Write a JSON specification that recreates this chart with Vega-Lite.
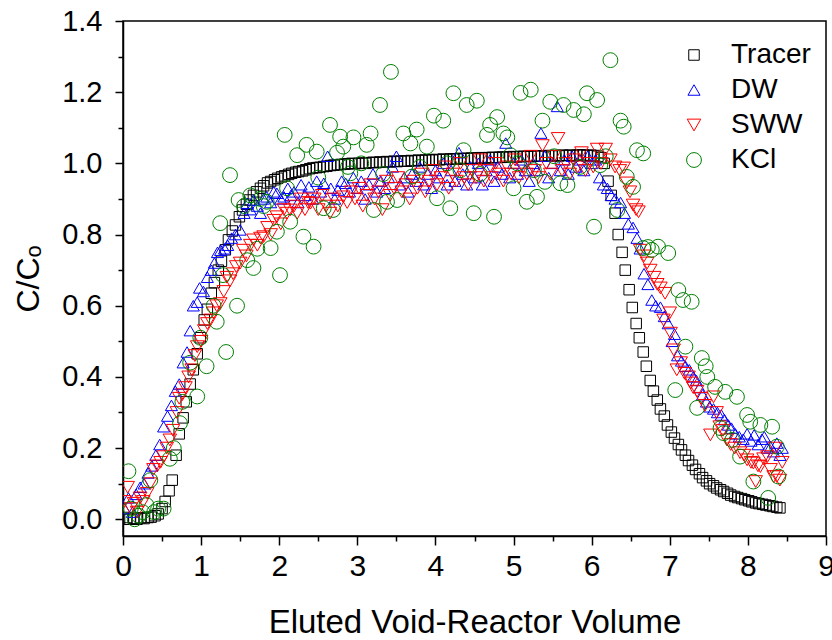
{
  "$schema": "https://vega.github.io/schema/vega-lite/v6.json",
  "width": 703,
  "height": 515,
  "autosize": "none",
  "padding": {"left": 123, "top": 21, "right": 6, "bottom": 104},
  "background": "white",
  "config": {
    "view": {"stroke": "black", "strokeWidth": 1.5},
    "axis": {
      "grid": false,
      "domainColor": "black",
      "domainWidth": 1.5,
      "tickColor": "black",
      "tickWidth": 1.5,
      "labelColor": "black",
      "titleColor": "black",
      "labelFont": "Liberation Sans",
      "titleFont": "Liberation Sans",
      "labelFontSize": 29,
      "titleFontSize": 33,
      "titleFontWeight": "normal"
    },
    "legend": {
      "labelFont": "Liberation Sans",
      "labelFontSize": 28,
      "labelColor": "black"
    }
  },
  "data": {
    "values": [
      {"s": "Tracer", "x": 0.0, "y": 0.0}, {"s": "Tracer", "x": 0.05, "y": 0.005}, {"s": "Tracer", "x": 0.09, "y": 0.0},
      {"s": "Tracer", "x": 0.14, "y": 0.003}, {"s": "Tracer", "x": 0.18, "y": 0.0}, {"s": "Tracer", "x": 0.23, "y": 0.004},
      {"s": "Tracer", "x": 0.27, "y": 0.002}, {"s": "Tracer", "x": 0.32, "y": 0.005}, {"s": "Tracer", "x": 0.36, "y": 0.006},
      {"s": "Tracer", "x": 0.41, "y": 0.01}, {"s": "Tracer", "x": 0.45, "y": 0.015}, {"s": "Tracer", "x": 0.5, "y": 0.03},
      {"s": "Tracer", "x": 0.54, "y": 0.05}, {"s": "Tracer", "x": 0.59, "y": 0.08}, {"s": "Tracer", "x": 0.63, "y": 0.11},
      {"s": "Tracer", "x": 0.68, "y": 0.18}, {"s": "Tracer", "x": 0.72, "y": 0.24}, {"s": "Tracer", "x": 0.77, "y": 0.285},
      {"s": "Tracer", "x": 0.81, "y": 0.33}, {"s": "Tracer", "x": 0.86, "y": 0.38}, {"s": "Tracer", "x": 0.9, "y": 0.42},
      {"s": "Tracer", "x": 0.95, "y": 0.465}, {"s": "Tracer", "x": 0.99, "y": 0.51}, {"s": "Tracer", "x": 1.04, "y": 0.56},
      {"s": "Tracer", "x": 1.08, "y": 0.59}, {"s": "Tracer", "x": 1.13, "y": 0.635}, {"s": "Tracer", "x": 1.17, "y": 0.665},
      {"s": "Tracer", "x": 1.22, "y": 0.7}, {"s": "Tracer", "x": 1.26, "y": 0.725}, {"s": "Tracer", "x": 1.31, "y": 0.757},
      {"s": "Tracer", "x": 1.35, "y": 0.785}, {"s": "Tracer", "x": 1.4, "y": 0.81}, {"s": "Tracer", "x": 1.44, "y": 0.827},
      {"s": "Tracer", "x": 1.49, "y": 0.85}, {"s": "Tracer", "x": 1.53, "y": 0.869}, {"s": "Tracer", "x": 1.58, "y": 0.885},
      {"s": "Tracer", "x": 1.62, "y": 0.897}, {"s": "Tracer", "x": 1.67, "y": 0.91}, {"s": "Tracer", "x": 1.71, "y": 0.92},
      {"s": "Tracer", "x": 1.76, "y": 0.93}, {"s": "Tracer", "x": 1.8, "y": 0.937}, {"s": "Tracer", "x": 1.85, "y": 0.945},
      {"s": "Tracer", "x": 1.89, "y": 0.949}, {"s": "Tracer", "x": 1.94, "y": 0.954}, {"s": "Tracer", "x": 1.98, "y": 0.958},
      {"s": "Tracer", "x": 2.03, "y": 0.962}, {"s": "Tracer", "x": 2.07, "y": 0.965}, {"s": "Tracer", "x": 2.12, "y": 0.969},
      {"s": "Tracer", "x": 2.16, "y": 0.972}, {"s": "Tracer", "x": 2.21, "y": 0.975}, {"s": "Tracer", "x": 2.25, "y": 0.977},
      {"s": "Tracer", "x": 2.3, "y": 0.979}, {"s": "Tracer", "x": 2.34, "y": 0.982}, {"s": "Tracer", "x": 2.39, "y": 0.985},
      {"s": "Tracer", "x": 2.43, "y": 0.987}, {"s": "Tracer", "x": 2.48, "y": 0.988}, {"s": "Tracer", "x": 2.52, "y": 0.989},
      {"s": "Tracer", "x": 2.57, "y": 0.991}, {"s": "Tracer", "x": 2.61, "y": 0.992}, {"s": "Tracer", "x": 2.66, "y": 0.994},
      {"s": "Tracer", "x": 2.7, "y": 0.995}, {"s": "Tracer", "x": 2.75, "y": 0.996}, {"s": "Tracer", "x": 2.79, "y": 0.997},
      {"s": "Tracer", "x": 2.84, "y": 0.998}, {"s": "Tracer", "x": 2.88, "y": 0.999}, {"s": "Tracer", "x": 2.93, "y": 1.0},
      {"s": "Tracer", "x": 2.97, "y": 0.999}, {"s": "Tracer", "x": 3.02, "y": 1.0}, {"s": "Tracer", "x": 3.06, "y": 1.001},
      {"s": "Tracer", "x": 3.11, "y": 1.0}, {"s": "Tracer", "x": 3.15, "y": 1.002}, {"s": "Tracer", "x": 3.2, "y": 1.003},
      {"s": "Tracer", "x": 3.24, "y": 1.002}, {"s": "Tracer", "x": 3.29, "y": 1.004}, {"s": "Tracer", "x": 3.33, "y": 1.003},
      {"s": "Tracer", "x": 3.38, "y": 1.005}, {"s": "Tracer", "x": 3.42, "y": 1.004}, {"s": "Tracer", "x": 3.47, "y": 1.006},
      {"s": "Tracer", "x": 3.51, "y": 1.005}, {"s": "Tracer", "x": 3.56, "y": 1.006}, {"s": "Tracer", "x": 3.6, "y": 1.007},
      {"s": "Tracer", "x": 3.65, "y": 1.006}, {"s": "Tracer", "x": 3.69, "y": 1.008}, {"s": "Tracer", "x": 3.74, "y": 1.007},
      {"s": "Tracer", "x": 3.78, "y": 1.009}, {"s": "Tracer", "x": 3.83, "y": 1.008}, {"s": "Tracer", "x": 3.87, "y": 1.009},
      {"s": "Tracer", "x": 3.92, "y": 1.01}, {"s": "Tracer", "x": 3.96, "y": 1.009}, {"s": "Tracer", "x": 4.01, "y": 1.011},
      {"s": "Tracer", "x": 4.05, "y": 1.01}, {"s": "Tracer", "x": 4.1, "y": 1.012}, {"s": "Tracer", "x": 4.14, "y": 1.011},
      {"s": "Tracer", "x": 4.19, "y": 1.012}, {"s": "Tracer", "x": 4.23, "y": 1.013}, {"s": "Tracer", "x": 4.28, "y": 1.012},
      {"s": "Tracer", "x": 4.32, "y": 1.014}, {"s": "Tracer", "x": 4.37, "y": 1.013}, {"s": "Tracer", "x": 4.41, "y": 1.014},
      {"s": "Tracer", "x": 4.46, "y": 1.015}, {"s": "Tracer", "x": 4.5, "y": 1.014}, {"s": "Tracer", "x": 4.55, "y": 1.015},
      {"s": "Tracer", "x": 4.59, "y": 1.016}, {"s": "Tracer", "x": 4.64, "y": 1.015}, {"s": "Tracer", "x": 4.68, "y": 1.016},
      {"s": "Tracer", "x": 4.73, "y": 1.017}, {"s": "Tracer", "x": 4.77, "y": 1.016}, {"s": "Tracer", "x": 4.82, "y": 1.017},
      {"s": "Tracer", "x": 4.86, "y": 1.018}, {"s": "Tracer", "x": 4.91, "y": 1.017}, {"s": "Tracer", "x": 4.95, "y": 1.018},
      {"s": "Tracer", "x": 5.0, "y": 1.019}, {"s": "Tracer", "x": 5.04, "y": 1.018}, {"s": "Tracer", "x": 5.09, "y": 1.019},
      {"s": "Tracer", "x": 5.13, "y": 1.02}, {"s": "Tracer", "x": 5.18, "y": 1.019}, {"s": "Tracer", "x": 5.22, "y": 1.02},
      {"s": "Tracer", "x": 5.27, "y": 1.021}, {"s": "Tracer", "x": 5.31, "y": 1.02}, {"s": "Tracer", "x": 5.36, "y": 1.021},
      {"s": "Tracer", "x": 5.4, "y": 1.02}, {"s": "Tracer", "x": 5.45, "y": 1.022}, {"s": "Tracer", "x": 5.49, "y": 1.021},
      {"s": "Tracer", "x": 5.54, "y": 1.022}, {"s": "Tracer", "x": 5.58, "y": 1.021}, {"s": "Tracer", "x": 5.63, "y": 1.023},
      {"s": "Tracer", "x": 5.67, "y": 1.022}, {"s": "Tracer", "x": 5.72, "y": 1.023}, {"s": "Tracer", "x": 5.76, "y": 1.022},
      {"s": "Tracer", "x": 5.81, "y": 1.023}, {"s": "Tracer", "x": 5.85, "y": 1.024}, {"s": "Tracer", "x": 5.9, "y": 1.023},
      {"s": "Tracer", "x": 5.94, "y": 1.022}, {"s": "Tracer", "x": 5.99, "y": 1.023}, {"s": "Tracer", "x": 6.03, "y": 1.022},
      {"s": "Tracer", "x": 6.08, "y": 1.02}, {"s": "Tracer", "x": 6.12, "y": 1.016}, {"s": "Tracer", "x": 6.16, "y": 1.0},
      {"s": "Tracer", "x": 6.21, "y": 0.95}, {"s": "Tracer", "x": 6.25, "y": 0.91}, {"s": "Tracer", "x": 6.3, "y": 0.86},
      {"s": "Tracer", "x": 6.34, "y": 0.8}, {"s": "Tracer", "x": 6.39, "y": 0.75}, {"s": "Tracer", "x": 6.43, "y": 0.7},
      {"s": "Tracer", "x": 6.48, "y": 0.645}, {"s": "Tracer", "x": 6.52, "y": 0.595}, {"s": "Tracer", "x": 6.57, "y": 0.55},
      {"s": "Tracer", "x": 6.61, "y": 0.51}, {"s": "Tracer", "x": 6.66, "y": 0.47}, {"s": "Tracer", "x": 6.7, "y": 0.43},
      {"s": "Tracer", "x": 6.75, "y": 0.39}, {"s": "Tracer", "x": 6.79, "y": 0.36}, {"s": "Tracer", "x": 6.84, "y": 0.335},
      {"s": "Tracer", "x": 6.88, "y": 0.31}, {"s": "Tracer", "x": 6.93, "y": 0.29}, {"s": "Tracer", "x": 6.97, "y": 0.265},
      {"s": "Tracer", "x": 7.02, "y": 0.245}, {"s": "Tracer", "x": 7.06, "y": 0.228}, {"s": "Tracer", "x": 7.11, "y": 0.21},
      {"s": "Tracer", "x": 7.15, "y": 0.195}, {"s": "Tracer", "x": 7.2, "y": 0.18}, {"s": "Tracer", "x": 7.24, "y": 0.165},
      {"s": "Tracer", "x": 7.29, "y": 0.152}, {"s": "Tracer", "x": 7.33, "y": 0.14}, {"s": "Tracer", "x": 7.38, "y": 0.128},
      {"s": "Tracer", "x": 7.42, "y": 0.117}, {"s": "Tracer", "x": 7.47, "y": 0.108}, {"s": "Tracer", "x": 7.51, "y": 0.1},
      {"s": "Tracer", "x": 7.56, "y": 0.094}, {"s": "Tracer", "x": 7.6, "y": 0.088}, {"s": "Tracer", "x": 7.65, "y": 0.083},
      {"s": "Tracer", "x": 7.69, "y": 0.078}, {"s": "Tracer", "x": 7.74, "y": 0.073}, {"s": "Tracer", "x": 7.78, "y": 0.068},
      {"s": "Tracer", "x": 7.83, "y": 0.064}, {"s": "Tracer", "x": 7.87, "y": 0.061}, {"s": "Tracer", "x": 7.92, "y": 0.058},
      {"s": "Tracer", "x": 7.96, "y": 0.055}, {"s": "Tracer", "x": 8.01, "y": 0.052}, {"s": "Tracer", "x": 8.05, "y": 0.049},
      {"s": "Tracer", "x": 8.1, "y": 0.046}, {"s": "Tracer", "x": 8.14, "y": 0.044}, {"s": "Tracer", "x": 8.19, "y": 0.042},
      {"s": "Tracer", "x": 8.23, "y": 0.04}, {"s": "Tracer", "x": 8.28, "y": 0.038}, {"s": "Tracer", "x": 8.32, "y": 0.036},
      {"s": "Tracer", "x": 8.37, "y": 0.034}, {"s": "Tracer", "x": 8.41, "y": 0.032},

      {"s": "DW", "x": 0.02, "y": 0.03}, {"s": "DW", "x": 0.07, "y": 0.06}, {"s": "DW", "x": 0.12, "y": 0.02},
      {"s": "DW", "x": 0.17, "y": 0.07}, {"s": "DW", "x": 0.22, "y": 0.09}, {"s": "DW", "x": 0.27, "y": 0.1},
      {"s": "DW", "x": 0.32, "y": 0.13}, {"s": "DW", "x": 0.37, "y": 0.15}, {"s": "DW", "x": 0.42, "y": 0.18},
      {"s": "DW", "x": 0.47, "y": 0.21}, {"s": "DW", "x": 0.52, "y": 0.26}, {"s": "DW", "x": 0.57, "y": 0.29},
      {"s": "DW", "x": 0.62, "y": 0.32}, {"s": "DW", "x": 0.67, "y": 0.36}, {"s": "DW", "x": 0.72, "y": 0.38},
      {"s": "DW", "x": 0.77, "y": 0.44}, {"s": "DW", "x": 0.82, "y": 0.47}, {"s": "DW", "x": 0.86, "y": 0.53},
      {"s": "DW", "x": 0.9, "y": 0.6}, {"s": "DW", "x": 0.95, "y": 0.61}, {"s": "DW", "x": 0.98, "y": 0.65},
      {"s": "DW", "x": 1.03, "y": 0.64}, {"s": "DW", "x": 1.08, "y": 0.68}, {"s": "DW", "x": 1.13, "y": 0.7},
      {"s": "DW", "x": 1.17, "y": 0.72}, {"s": "DW", "x": 1.21, "y": 0.75}, {"s": "DW", "x": 1.25, "y": 0.756},
      {"s": "DW", "x": 1.3, "y": 0.76}, {"s": "DW", "x": 1.34, "y": 0.77}, {"s": "DW", "x": 1.39, "y": 0.79},
      {"s": "DW", "x": 1.44, "y": 0.8}, {"s": "DW", "x": 1.5, "y": 0.813}, {"s": "DW", "x": 1.55, "y": 0.86},
      {"s": "DW", "x": 1.59, "y": 0.888}, {"s": "DW", "x": 1.63, "y": 0.87}, {"s": "DW", "x": 1.67, "y": 0.897},
      {"s": "DW", "x": 1.72, "y": 0.88}, {"s": "DW", "x": 1.76, "y": 0.86}, {"s": "DW", "x": 1.8, "y": 0.9},
      {"s": "DW", "x": 1.84, "y": 0.906}, {"s": "DW", "x": 1.89, "y": 0.89}, {"s": "DW", "x": 1.93, "y": 0.92},
      {"s": "DW", "x": 1.97, "y": 0.916}, {"s": "DW", "x": 2.02, "y": 0.9}, {"s": "DW", "x": 2.06, "y": 0.906},
      {"s": "DW", "x": 2.11, "y": 0.93}, {"s": "DW", "x": 2.15, "y": 0.91}, {"s": "DW", "x": 2.19, "y": 0.92},
      {"s": "DW", "x": 2.24, "y": 0.89}, {"s": "DW", "x": 2.28, "y": 0.94}, {"s": "DW", "x": 2.33, "y": 0.91},
      {"s": "DW", "x": 2.38, "y": 0.934}, {"s": "DW", "x": 2.43, "y": 0.9}, {"s": "DW", "x": 2.48, "y": 0.95},
      {"s": "DW", "x": 2.53, "y": 0.92}, {"s": "DW", "x": 2.57, "y": 0.944}, {"s": "DW", "x": 2.62, "y": 1.02},
      {"s": "DW", "x": 2.66, "y": 0.93}, {"s": "DW", "x": 2.71, "y": 0.9}, {"s": "DW", "x": 2.75, "y": 0.925},
      {"s": "DW", "x": 2.8, "y": 0.95}, {"s": "DW", "x": 2.85, "y": 0.944}, {"s": "DW", "x": 2.9, "y": 0.92},
      {"s": "DW", "x": 2.95, "y": 0.96}, {"s": "DW", "x": 3.0, "y": 0.93}, {"s": "DW", "x": 3.05, "y": 0.95},
      {"s": "DW", "x": 3.1, "y": 0.9}, {"s": "DW", "x": 3.15, "y": 0.94}, {"s": "DW", "x": 3.2, "y": 0.97},
      {"s": "DW", "x": 3.25, "y": 0.92}, {"s": "DW", "x": 3.3, "y": 0.95}, {"s": "DW", "x": 3.35, "y": 0.93},
      {"s": "DW", "x": 3.4, "y": 0.96}, {"s": "DW", "x": 3.45, "y": 0.99}, {"s": "DW", "x": 3.5, "y": 1.02},
      {"s": "DW", "x": 3.55, "y": 0.94}, {"s": "DW", "x": 3.6, "y": 0.96}, {"s": "DW", "x": 3.65, "y": 0.92},
      {"s": "DW", "x": 3.7, "y": 0.97}, {"s": "DW", "x": 3.75, "y": 0.95}, {"s": "DW", "x": 3.8, "y": 0.99},
      {"s": "DW", "x": 3.85, "y": 0.94}, {"s": "DW", "x": 3.9, "y": 0.97}, {"s": "DW", "x": 3.95, "y": 0.93},
      {"s": "DW", "x": 4.0, "y": 0.98}, {"s": "DW", "x": 4.05, "y": 0.96}, {"s": "DW", "x": 4.1, "y": 1.0},
      {"s": "DW", "x": 4.15, "y": 0.94}, {"s": "DW", "x": 4.2, "y": 0.98}, {"s": "DW", "x": 4.25, "y": 0.95},
      {"s": "DW", "x": 4.3, "y": 1.03}, {"s": "DW", "x": 4.35, "y": 0.97}, {"s": "DW", "x": 4.4, "y": 0.94},
      {"s": "DW", "x": 4.45, "y": 0.99}, {"s": "DW", "x": 4.5, "y": 0.96}, {"s": "DW", "x": 4.55, "y": 1.0},
      {"s": "DW", "x": 4.6, "y": 0.94}, {"s": "DW", "x": 4.65, "y": 0.98}, {"s": "DW", "x": 4.7, "y": 1.01},
      {"s": "DW", "x": 4.75, "y": 0.95}, {"s": "DW", "x": 4.8, "y": 0.99}, {"s": "DW", "x": 4.85, "y": 0.97},
      {"s": "DW", "x": 4.9, "y": 1.057}, {"s": "DW", "x": 4.95, "y": 0.96}, {"s": "DW", "x": 5.0, "y": 1.0},
      {"s": "DW", "x": 5.05, "y": 0.97}, {"s": "DW", "x": 5.1, "y": 1.01}, {"s": "DW", "x": 5.15, "y": 0.98},
      {"s": "DW", "x": 5.2, "y": 0.95}, {"s": "DW", "x": 5.25, "y": 1.0}, {"s": "DW", "x": 5.3, "y": 0.98},
      {"s": "DW", "x": 5.35, "y": 1.085}, {"s": "DW", "x": 5.4, "y": 1.02}, {"s": "DW", "x": 5.45, "y": 0.96},
      {"s": "DW", "x": 5.5, "y": 1.0}, {"s": "DW", "x": 5.56, "y": 1.16}, {"s": "DW", "x": 5.6, "y": 0.98},
      {"s": "DW", "x": 5.65, "y": 1.01}, {"s": "DW", "x": 5.7, "y": 0.97}, {"s": "DW", "x": 5.75, "y": 1.02},
      {"s": "DW", "x": 5.8, "y": 0.99}, {"s": "DW", "x": 5.85, "y": 1.01}, {"s": "DW", "x": 5.9, "y": 0.98},
      {"s": "DW", "x": 5.95, "y": 1.02}, {"s": "DW", "x": 6.0, "y": 1.0}, {"s": "DW", "x": 6.05, "y": 1.01},
      {"s": "DW", "x": 6.1, "y": 0.96}, {"s": "DW", "x": 6.15, "y": 0.94}, {"s": "DW", "x": 6.2, "y": 0.93},
      {"s": "DW", "x": 6.25, "y": 0.91}, {"s": "DW", "x": 6.3, "y": 0.9}, {"s": "DW", "x": 6.37, "y": 0.89},
      {"s": "DW", "x": 6.42, "y": 0.86}, {"s": "DW", "x": 6.47, "y": 0.83}, {"s": "DW", "x": 6.53, "y": 0.82},
      {"s": "DW", "x": 6.58, "y": 0.79}, {"s": "DW", "x": 6.62, "y": 0.76}, {"s": "DW", "x": 6.67, "y": 0.69},
      {"s": "DW", "x": 6.72, "y": 0.66}, {"s": "DW", "x": 6.77, "y": 0.616}, {"s": "DW", "x": 6.82, "y": 0.6},
      {"s": "DW", "x": 6.88, "y": 0.596}, {"s": "DW", "x": 6.93, "y": 0.57}, {"s": "DW", "x": 6.98, "y": 0.55},
      {"s": "DW", "x": 7.03, "y": 0.5}, {"s": "DW", "x": 7.06, "y": 0.52}, {"s": "DW", "x": 7.1, "y": 0.46},
      {"s": "DW", "x": 7.15, "y": 0.445}, {"s": "DW", "x": 7.2, "y": 0.43}, {"s": "DW", "x": 7.25, "y": 0.42},
      {"s": "DW", "x": 7.3, "y": 0.4}, {"s": "DW", "x": 7.34, "y": 0.39}, {"s": "DW", "x": 7.38, "y": 0.37},
      {"s": "DW", "x": 7.42, "y": 0.35}, {"s": "DW", "x": 7.47, "y": 0.33}, {"s": "DW", "x": 7.51, "y": 0.316},
      {"s": "DW", "x": 7.56, "y": 0.31}, {"s": "DW", "x": 7.61, "y": 0.3}, {"s": "DW", "x": 7.66, "y": 0.293},
      {"s": "DW", "x": 7.7, "y": 0.28}, {"s": "DW", "x": 7.75, "y": 0.265}, {"s": "DW", "x": 7.79, "y": 0.256},
      {"s": "DW", "x": 7.84, "y": 0.24}, {"s": "DW", "x": 7.89, "y": 0.232}, {"s": "DW", "x": 7.94, "y": 0.225},
      {"s": "DW", "x": 7.99, "y": 0.24}, {"s": "DW", "x": 8.04, "y": 0.22}, {"s": "DW", "x": 8.08, "y": 0.237},
      {"s": "DW", "x": 8.13, "y": 0.21}, {"s": "DW", "x": 8.18, "y": 0.225}, {"s": "DW", "x": 8.21, "y": 0.232},
      {"s": "DW", "x": 8.25, "y": 0.2}, {"s": "DW", "x": 8.29, "y": 0.204}, {"s": "DW", "x": 8.33, "y": 0.19},
      {"s": "DW", "x": 8.37, "y": 0.214}, {"s": "DW", "x": 8.41, "y": 0.18}, {"s": "DW", "x": 8.44, "y": 0.2},

      {"s": "SWW", "x": 0.02, "y": 0.05}, {"s": "SWW", "x": 0.06, "y": 0.09}, {"s": "SWW", "x": 0.1, "y": 0.03},
      {"s": "SWW", "x": 0.14, "y": 0.045}, {"s": "SWW", "x": 0.18, "y": 0.02}, {"s": "SWW", "x": 0.22, "y": 0.06},
      {"s": "SWW", "x": 0.26, "y": 0.05}, {"s": "SWW", "x": 0.31, "y": 0.073}, {"s": "SWW", "x": 0.35, "y": 0.1},
      {"s": "SWW", "x": 0.39, "y": 0.14}, {"s": "SWW", "x": 0.44, "y": 0.15}, {"s": "SWW", "x": 0.48, "y": 0.16},
      {"s": "SWW", "x": 0.52, "y": 0.176}, {"s": "SWW", "x": 0.56, "y": 0.2}, {"s": "SWW", "x": 0.6, "y": 0.223},
      {"s": "SWW", "x": 0.64, "y": 0.25}, {"s": "SWW", "x": 0.69, "y": 0.3}, {"s": "SWW", "x": 0.72, "y": 0.34},
      {"s": "SWW", "x": 0.76, "y": 0.35}, {"s": "SWW", "x": 0.8, "y": 0.37}, {"s": "SWW", "x": 0.84, "y": 0.4},
      {"s": "SWW", "x": 0.88, "y": 0.42}, {"s": "SWW", "x": 0.92, "y": 0.46}, {"s": "SWW", "x": 0.95, "y": 0.485},
      {"s": "SWW", "x": 1.0, "y": 0.5}, {"s": "SWW", "x": 1.04, "y": 0.53}, {"s": "SWW", "x": 1.08, "y": 0.55},
      {"s": "SWW", "x": 1.12, "y": 0.56}, {"s": "SWW", "x": 1.16, "y": 0.58}, {"s": "SWW", "x": 1.2, "y": 0.6},
      {"s": "SWW", "x": 1.245, "y": 0.606}, {"s": "SWW", "x": 1.29, "y": 0.64}, {"s": "SWW", "x": 1.33, "y": 0.68},
      {"s": "SWW", "x": 1.37, "y": 0.67}, {"s": "SWW", "x": 1.41, "y": 0.69}, {"s": "SWW", "x": 1.45, "y": 0.71},
      {"s": "SWW", "x": 1.5, "y": 0.72}, {"s": "SWW", "x": 1.54, "y": 0.756}, {"s": "SWW", "x": 1.58, "y": 0.74},
      {"s": "SWW", "x": 1.63, "y": 0.77}, {"s": "SWW", "x": 1.67, "y": 0.785}, {"s": "SWW", "x": 1.72, "y": 0.77},
      {"s": "SWW", "x": 1.76, "y": 0.79}, {"s": "SWW", "x": 1.8, "y": 0.794}, {"s": "SWW", "x": 1.85, "y": 0.82},
      {"s": "SWW", "x": 1.89, "y": 0.8}, {"s": "SWW", "x": 1.93, "y": 0.84}, {"s": "SWW", "x": 1.97, "y": 0.85},
      {"s": "SWW", "x": 2.02, "y": 0.83}, {"s": "SWW", "x": 2.06, "y": 0.87}, {"s": "SWW", "x": 2.1, "y": 0.86},
      {"s": "SWW", "x": 2.14, "y": 0.869}, {"s": "SWW", "x": 2.19, "y": 0.88}, {"s": "SWW", "x": 2.23, "y": 0.86},
      {"s": "SWW", "x": 2.28, "y": 0.9}, {"s": "SWW", "x": 2.33, "y": 0.87}, {"s": "SWW", "x": 2.37, "y": 0.89},
      {"s": "SWW", "x": 2.4, "y": 0.888}, {"s": "SWW", "x": 2.45, "y": 0.9}, {"s": "SWW", "x": 2.5, "y": 0.87},
      {"s": "SWW", "x": 2.55, "y": 0.91}, {"s": "SWW", "x": 2.6, "y": 0.88}, {"s": "SWW", "x": 2.65, "y": 0.86},
      {"s": "SWW", "x": 2.7, "y": 0.9}, {"s": "SWW", "x": 2.75, "y": 0.88}, {"s": "SWW", "x": 2.82, "y": 0.906},
      {"s": "SWW", "x": 2.87, "y": 0.89}, {"s": "SWW", "x": 2.92, "y": 0.92}, {"s": "SWW", "x": 2.97, "y": 0.9},
      {"s": "SWW", "x": 3.02, "y": 0.93}, {"s": "SWW", "x": 3.07, "y": 0.88}, {"s": "SWW", "x": 3.12, "y": 0.91},
      {"s": "SWW", "x": 3.17, "y": 0.94}, {"s": "SWW", "x": 3.22, "y": 0.9}, {"s": "SWW", "x": 3.27, "y": 0.92},
      {"s": "SWW", "x": 3.32, "y": 0.87}, {"s": "SWW", "x": 3.37, "y": 0.95}, {"s": "SWW", "x": 3.42, "y": 0.91},
      {"s": "SWW", "x": 3.47, "y": 0.93}, {"s": "SWW", "x": 3.52, "y": 0.96}, {"s": "SWW", "x": 3.57, "y": 0.92},
      {"s": "SWW", "x": 3.62, "y": 0.94}, {"s": "SWW", "x": 3.67, "y": 0.9}, {"s": "SWW", "x": 3.72, "y": 0.95},
      {"s": "SWW", "x": 3.77, "y": 0.93}, {"s": "SWW", "x": 3.82, "y": 0.97}, {"s": "SWW", "x": 3.87, "y": 0.92},
      {"s": "SWW", "x": 3.92, "y": 0.95}, {"s": "SWW", "x": 3.97, "y": 0.98}, {"s": "SWW", "x": 4.02, "y": 0.94},
      {"s": "SWW", "x": 4.07, "y": 0.96}, {"s": "SWW", "x": 4.12, "y": 0.99}, {"s": "SWW", "x": 4.17, "y": 0.93},
      {"s": "SWW", "x": 4.22, "y": 0.97}, {"s": "SWW", "x": 4.27, "y": 0.95}, {"s": "SWW", "x": 4.32, "y": 1.0},
      {"s": "SWW", "x": 4.37, "y": 0.96}, {"s": "SWW", "x": 4.42, "y": 0.94}, {"s": "SWW", "x": 4.47, "y": 0.98},
      {"s": "SWW", "x": 4.52, "y": 0.96}, {"s": "SWW", "x": 4.57, "y": 1.01}, {"s": "SWW", "x": 4.62, "y": 0.95},
      {"s": "SWW", "x": 4.67, "y": 0.98}, {"s": "SWW", "x": 4.72, "y": 0.96}, {"s": "SWW", "x": 4.77, "y": 1.0},
      {"s": "SWW", "x": 4.82, "y": 0.97}, {"s": "SWW", "x": 4.87, "y": 0.95}, {"s": "SWW", "x": 4.92, "y": 0.99},
      {"s": "SWW", "x": 4.97, "y": 0.97}, {"s": "SWW", "x": 5.02, "y": 1.01}, {"s": "SWW", "x": 5.07, "y": 0.96},
      {"s": "SWW", "x": 5.12, "y": 0.99}, {"s": "SWW", "x": 5.17, "y": 0.97}, {"s": "SWW", "x": 5.22, "y": 1.02},
      {"s": "SWW", "x": 5.27, "y": 0.98}, {"s": "SWW", "x": 5.32, "y": 0.96}, {"s": "SWW", "x": 5.37, "y": 1.05},
      {"s": "SWW", "x": 5.42, "y": 1.0}, {"s": "SWW", "x": 5.47, "y": 0.97}, {"s": "SWW", "x": 5.52, "y": 1.02},
      {"s": "SWW", "x": 5.57, "y": 1.07}, {"s": "SWW", "x": 5.62, "y": 0.98}, {"s": "SWW", "x": 5.67, "y": 1.0},
      {"s": "SWW", "x": 5.72, "y": 0.97}, {"s": "SWW", "x": 5.77, "y": 1.01}, {"s": "SWW", "x": 5.82, "y": 0.99},
      {"s": "SWW", "x": 5.87, "y": 1.03}, {"s": "SWW", "x": 5.92, "y": 0.98}, {"s": "SWW", "x": 5.97, "y": 1.0},
      {"s": "SWW", "x": 6.02, "y": 0.99}, {"s": "SWW", "x": 6.07, "y": 1.04}, {"s": "SWW", "x": 6.12, "y": 1.0},
      {"s": "SWW", "x": 6.18, "y": 1.04}, {"s": "SWW", "x": 6.24, "y": 1.01}, {"s": "SWW", "x": 6.3, "y": 0.99},
      {"s": "SWW", "x": 6.36, "y": 0.98}, {"s": "SWW", "x": 6.41, "y": 0.987}, {"s": "SWW", "x": 6.45, "y": 0.945},
      {"s": "SWW", "x": 6.49, "y": 0.92}, {"s": "SWW", "x": 6.53, "y": 0.883}, {"s": "SWW", "x": 6.57, "y": 0.87},
      {"s": "SWW", "x": 6.6, "y": 0.864}, {"s": "SWW", "x": 6.62, "y": 0.756}, {"s": "SWW", "x": 6.67, "y": 0.74},
      {"s": "SWW", "x": 6.71, "y": 0.72}, {"s": "SWW", "x": 6.75, "y": 0.7}, {"s": "SWW", "x": 6.8, "y": 0.68},
      {"s": "SWW", "x": 6.84, "y": 0.66}, {"s": "SWW", "x": 6.88, "y": 0.65}, {"s": "SWW", "x": 6.92, "y": 0.56},
      {"s": "SWW", "x": 6.94, "y": 0.635}, {"s": "SWW", "x": 7.0, "y": 0.58}, {"s": "SWW", "x": 7.01, "y": 0.523},
      {"s": "SWW", "x": 7.05, "y": 0.476}, {"s": "SWW", "x": 7.09, "y": 0.42}, {"s": "SWW", "x": 7.14, "y": 0.44},
      {"s": "SWW", "x": 7.19, "y": 0.41}, {"s": "SWW", "x": 7.24, "y": 0.4}, {"s": "SWW", "x": 7.27, "y": 0.383},
      {"s": "SWW", "x": 7.3, "y": 0.37}, {"s": "SWW", "x": 7.35, "y": 0.36}, {"s": "SWW", "x": 7.4, "y": 0.34},
      {"s": "SWW", "x": 7.45, "y": 0.32}, {"s": "SWW", "x": 7.52, "y": 0.237}, {"s": "SWW", "x": 7.56, "y": 0.344},
      {"s": "SWW", "x": 7.6, "y": 0.3}, {"s": "SWW", "x": 7.64, "y": 0.26}, {"s": "SWW", "x": 7.68, "y": 0.25},
      {"s": "SWW", "x": 7.73, "y": 0.223}, {"s": "SWW", "x": 7.78, "y": 0.21}, {"s": "SWW", "x": 7.83, "y": 0.2},
      {"s": "SWW", "x": 7.9, "y": 0.187}, {"s": "SWW", "x": 7.95, "y": 0.18}, {"s": "SWW", "x": 7.99, "y": 0.167},
      {"s": "SWW", "x": 8.04, "y": 0.16}, {"s": "SWW", "x": 8.07, "y": 0.158}, {"s": "SWW", "x": 8.1, "y": 0.106},
      {"s": "SWW", "x": 8.13, "y": 0.15}, {"s": "SWW", "x": 8.16, "y": 0.148}, {"s": "SWW", "x": 8.2, "y": 0.17},
      {"s": "SWW", "x": 8.25, "y": 0.176}, {"s": "SWW", "x": 8.29, "y": 0.14}, {"s": "SWW", "x": 8.33, "y": 0.12},
      {"s": "SWW", "x": 8.35, "y": 0.2}, {"s": "SWW", "x": 8.37, "y": 0.12}, {"s": "SWW", "x": 8.41, "y": 0.11},
      {"s": "SWW", "x": 8.44, "y": 0.16},

      {"s": "KCl", "x": 0.07, "y": 0.135}, {"s": "KCl", "x": 0.1, "y": 0.03}, {"s": "KCl", "x": 0.15, "y": 0.0},
      {"s": "KCl", "x": 0.2, "y": 0.01}, {"s": "KCl", "x": 0.25, "y": 0.02}, {"s": "KCl", "x": 0.3, "y": 0.04},
      {"s": "KCl", "x": 0.35, "y": 0.11}, {"s": "KCl", "x": 0.4, "y": 0.02}, {"s": "KCl", "x": 0.45, "y": 0.03},
      {"s": "KCl", "x": 0.52, "y": 0.03}, {"s": "KCl", "x": 0.6, "y": 0.17}, {"s": "KCl", "x": 0.65, "y": 0.2},
      {"s": "KCl", "x": 0.73, "y": 0.27}, {"s": "KCl", "x": 0.76, "y": 0.33}, {"s": "KCl", "x": 0.86, "y": 0.44},
      {"s": "KCl", "x": 0.95, "y": 0.345}, {"s": "KCl", "x": 0.99, "y": 0.51}, {"s": "KCl", "x": 1.07, "y": 0.43},
      {"s": "KCl", "x": 1.16, "y": 0.6}, {"s": "KCl", "x": 1.2, "y": 0.555}, {"s": "KCl", "x": 1.245, "y": 0.832},
      {"s": "KCl", "x": 1.28, "y": 0.686}, {"s": "KCl", "x": 1.32, "y": 0.47}, {"s": "KCl", "x": 1.37, "y": 0.967},
      {"s": "KCl", "x": 1.46, "y": 0.6}, {"s": "KCl", "x": 1.48, "y": 0.897}, {"s": "KCl", "x": 1.55, "y": 0.88},
      {"s": "KCl", "x": 1.59, "y": 0.728}, {"s": "KCl", "x": 1.63, "y": 0.91}, {"s": "KCl", "x": 1.67, "y": 0.706},
      {"s": "KCl", "x": 1.72, "y": 0.76}, {"s": "KCl", "x": 1.76, "y": 0.9}, {"s": "KCl", "x": 1.8, "y": 0.88},
      {"s": "KCl", "x": 1.84, "y": 0.892}, {"s": "KCl", "x": 1.89, "y": 0.762}, {"s": "KCl", "x": 1.97, "y": 0.808},
      {"s": "KCl", "x": 2.01, "y": 0.686}, {"s": "KCl", "x": 2.07, "y": 1.08}, {"s": "KCl", "x": 2.1, "y": 0.93},
      {"s": "KCl", "x": 2.14, "y": 0.836}, {"s": "KCl", "x": 2.23, "y": 1.023}, {"s": "KCl", "x": 2.31, "y": 0.794},
      {"s": "KCl", "x": 2.35, "y": 1.052}, {"s": "KCl", "x": 2.44, "y": 0.766}, {"s": "KCl", "x": 2.48, "y": 1.033},
      {"s": "KCl", "x": 2.5, "y": 0.96}, {"s": "KCl", "x": 2.57, "y": 0.874}, {"s": "KCl", "x": 2.65, "y": 1.108},
      {"s": "KCl", "x": 2.69, "y": 0.869}, {"s": "KCl", "x": 2.74, "y": 1.03}, {"s": "KCl", "x": 2.78, "y": 1.075},
      {"s": "KCl", "x": 2.82, "y": 1.047}, {"s": "KCl", "x": 2.88, "y": 0.99}, {"s": "KCl", "x": 2.91, "y": 0.972},
      {"s": "KCl", "x": 2.95, "y": 1.073}, {"s": "KCl", "x": 3.05, "y": 1.0}, {"s": "KCl", "x": 3.12, "y": 1.052},
      {"s": "KCl", "x": 3.17, "y": 1.084}, {"s": "KCl", "x": 3.21, "y": 0.869}, {"s": "KCl", "x": 3.29, "y": 1.164},
      {"s": "KCl", "x": 3.33, "y": 0.97}, {"s": "KCl", "x": 3.38, "y": 0.892}, {"s": "KCl", "x": 3.43, "y": 1.257},
      {"s": "KCl", "x": 3.51, "y": 0.897}, {"s": "KCl", "x": 3.59, "y": 1.084}, {"s": "KCl", "x": 3.68, "y": 1.056},
      {"s": "KCl", "x": 3.7, "y": 0.963}, {"s": "KCl", "x": 3.76, "y": 1.095}, {"s": "KCl", "x": 3.8, "y": 0.99},
      {"s": "KCl", "x": 3.89, "y": 1.047}, {"s": "KCl", "x": 3.98, "y": 1.134}, {"s": "KCl", "x": 4.02, "y": 0.902},
      {"s": "KCl", "x": 4.1, "y": 1.12}, {"s": "KCl", "x": 4.15, "y": 1.0}, {"s": "KCl", "x": 4.19, "y": 0.874},
      {"s": "KCl", "x": 4.23, "y": 1.197}, {"s": "KCl", "x": 4.32, "y": 0.981}, {"s": "KCl", "x": 4.36, "y": 1.037},
      {"s": "KCl", "x": 4.4, "y": 1.164}, {"s": "KCl", "x": 4.49, "y": 0.86}, {"s": "KCl", "x": 4.53, "y": 1.176},
      {"s": "KCl", "x": 4.57, "y": 0.97}, {"s": "KCl", "x": 4.66, "y": 1.08}, {"s": "KCl", "x": 4.7, "y": 1.108},
      {"s": "KCl", "x": 4.75, "y": 0.85}, {"s": "KCl", "x": 4.79, "y": 1.13}, {"s": "KCl", "x": 4.87, "y": 1.084},
      {"s": "KCl", "x": 4.92, "y": 1.073}, {"s": "KCl", "x": 4.96, "y": 1.023}, {"s": "KCl", "x": 5.0, "y": 0.93},
      {"s": "KCl", "x": 5.05, "y": 1.0}, {"s": "KCl", "x": 5.09, "y": 1.198}, {"s": "KCl", "x": 5.17, "y": 0.892},
      {"s": "KCl", "x": 5.22, "y": 1.207}, {"s": "KCl", "x": 5.26, "y": 0.981}, {"s": "KCl", "x": 5.3, "y": 0.906},
      {"s": "KCl", "x": 5.37, "y": 1.12}, {"s": "KCl", "x": 5.4, "y": 0.948}, {"s": "KCl", "x": 5.47, "y": 1.173},
      {"s": "KCl", "x": 5.52, "y": 1.02}, {"s": "KCl", "x": 5.6, "y": 0.944}, {"s": "KCl", "x": 5.64, "y": 1.164},
      {"s": "KCl", "x": 5.69, "y": 0.939}, {"s": "KCl", "x": 5.77, "y": 1.15}, {"s": "KCl", "x": 5.85, "y": 0.99},
      {"s": "KCl", "x": 5.9, "y": 1.138}, {"s": "KCl", "x": 5.94, "y": 1.197}, {"s": "KCl", "x": 6.03, "y": 0.822},
      {"s": "KCl", "x": 6.07, "y": 1.178}, {"s": "KCl", "x": 6.11, "y": 0.995}, {"s": "KCl", "x": 6.18, "y": 1.02},
      {"s": "KCl", "x": 6.24, "y": 1.29}, {"s": "KCl", "x": 6.33, "y": 0.869}, {"s": "KCl", "x": 6.37, "y": 1.12},
      {"s": "KCl", "x": 6.41, "y": 1.103}, {"s": "KCl", "x": 6.45, "y": 0.962}, {"s": "KCl", "x": 6.53, "y": 0.934},
      {"s": "KCl", "x": 6.58, "y": 1.037}, {"s": "KCl", "x": 6.66, "y": 1.028}, {"s": "KCl", "x": 6.66, "y": 0.762},
      {"s": "KCl", "x": 6.72, "y": 0.765}, {"s": "KCl", "x": 6.77, "y": 0.757}, {"s": "KCl", "x": 6.85, "y": 0.766},
      {"s": "KCl", "x": 6.98, "y": 0.748}, {"s": "KCl", "x": 7.07, "y": 0.363}, {"s": "KCl", "x": 7.11, "y": 0.644},
      {"s": "KCl", "x": 7.17, "y": 0.616}, {"s": "KCl", "x": 7.2, "y": 0.485}, {"s": "KCl", "x": 7.28, "y": 0.611},
      {"s": "KCl", "x": 7.35, "y": 0.313}, {"s": "KCl", "x": 7.41, "y": 0.453}, {"s": "KCl", "x": 7.46, "y": 0.43},
      {"s": "KCl", "x": 7.48, "y": 0.4}, {"s": "KCl", "x": 7.58, "y": 0.372}, {"s": "KCl", "x": 7.65, "y": 0.256},
      {"s": "KCl", "x": 7.69, "y": 0.242}, {"s": "KCl", "x": 7.71, "y": 0.358}, {"s": "KCl", "x": 7.8, "y": 0.223},
      {"s": "KCl", "x": 7.86, "y": 0.344}, {"s": "KCl", "x": 7.9, "y": 0.176}, {"s": "KCl", "x": 7.99, "y": 0.293},
      {"s": "KCl", "x": 8.03, "y": 0.274}, {"s": "KCl", "x": 8.07, "y": 0.106}, {"s": "KCl", "x": 8.16, "y": 0.265},
      {"s": "KCl", "x": 8.26, "y": 0.06}, {"s": "KCl", "x": 8.31, "y": 0.26}, {"s": "KCl", "x": 8.37, "y": 0.204},
      {"s": "KCl", "x": 8.39, "y": 0.12}
    ]
  },
  "mark": {"type": "point", "filled": false, "strokeWidth": 1, "opacity": 1, "clip": true},
  "encoding": {
    "x": {
      "field": "x",
      "type": "quantitative",
      "scale": {"domain": [0, 9], "nice": false, "zero": false},
      "axis": {
        "title": "Eluted Void-Reactor Volume",
        "values": [0, 0.5, 1, 1.5, 2, 2.5, 3, 3.5, 4, 4.5, 5, 5.5, 6, 6.5, 7, 7.5, 8, 8.5, 9],
        "labelExpr": "datum.value % 1 == 0 ? format(datum.value, 'd') : ''",
        "tickSize": {"condition": {"test": "datum.value % 1 == 0", "value": 9}, "value": 5},
        "labelFontSize": 30,
        "labelPadding": 6,
        "titlePadding": 25,
        "labelFlush": false,
        "labelOverlap": false
      }
    },
    "y": {
      "field": "y",
      "type": "quantitative",
      "scale": {"domain": [-0.047, 1.4], "nice": false, "zero": false},
      "axis": {
        "title": "C/Cₒ",
        "titleFontSize": 32,
        "values": [0, 0.1, 0.2, 0.3, 0.4, 0.5, 0.6, 0.7, 0.8, 0.9, 1.0, 1.1, 1.2, 1.3, 1.4],
        "labelExpr": "round(datum.value * 10) % 2 == 0 ? format(datum.value, '.1f') : ''",
        "tickSize": {"condition": {"test": "round(datum.value * 10) % 2 == 0", "value": 8}, "value": 5},
        "labelPadding": 13,
        "titlePadding": 16,
        "labelFlush": false,
        "labelOverlap": false
      }
    },
    "color": {
      "field": "s",
      "type": "nominal",
      "scale": {"domain": ["Tracer", "DW", "SWW", "KCl"], "range": ["#000000", "#0000ff", "#ff0000", "#008000"]},
      "legend": {
        "title": null,
        "orient": "none",
        "legendX": 557,
        "legendY": 20,
        "padding": 0,
        "symbolSize": 170,
        "symbolStrokeWidth": 1,
        "labelOffset": 23,
        "rowPadding": 7
      }
    },
    "shape": {
      "field": "s",
      "type": "nominal",
      "scale": {"domain": ["Tracer", "DW", "SWW", "KCl"], "range": ["square", "triangle-up", "triangle-down", "circle"]}
    },
    "size": {
      "field": "s",
      "type": "nominal",
      "scale": {"domain": ["Tracer", "DW", "SWW", "KCl"], "range": [110, 220, 220, 180]},
      "legend": null
    }
  }
}
